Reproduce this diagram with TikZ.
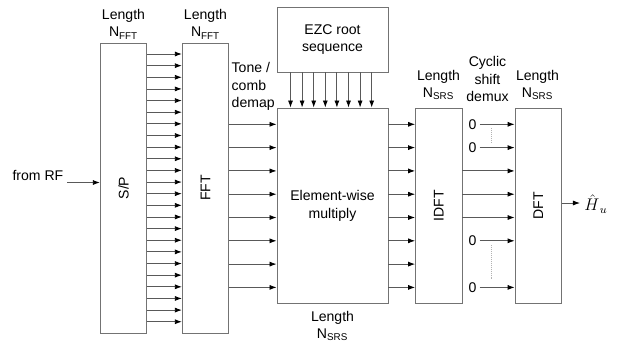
\documentclass[tikz,border=0pt]{standalone}
\usepackage{fontspec}
\setmainfont{Liberation Sans}
\usetikzlibrary{arrows.meta,positioning,calc}

\begin{document}
\begin{tikzpicture}[
    x=0.025cm, y=-0.025cm,
    font=\fontsize{10}{12.6}\selectfont,
    block/.style={rectangle, draw=black!55, semithick, minimum width=1.16cm, inner sep=0pt},
    arrow/.style={-{Latex[length=5pt,width=3.6pt,color=black]}, draw=black!65, semithick},
    lbl/.style={align=center, inner sep=1pt}
]
    \useasboundingbox (0,0) rectangle (629,343);

    % blocks
    \node[block, minimum height=7.25cm] (sp) at (123.5,188) {};
    \node[block, minimum height=7.25cm] (fft) at (205.5,188) {};
    \node[block, minimum width=2.775cm, minimum height=1.625cm, align=center] (ezc) at (332.5,39.5) {EZC root\\sequence};
    \node[block, minimum width=2.775cm, minimum height=4.875cm, align=center] (mult) at (332.5,205.5) {Element-wise\\multiply};
    \node[block, minimum height=4.875cm] (idft) at (438.75,205.5) {};
    \node[block, minimum height=4.875cm] (dft) at (538.25,205.5) {};

    \node[rotate=90] at (sp) {S/P};
    \node[rotate=90] at (fft) {FFT};
    \node[rotate=90] at (idft) {IDFT};
    \node[rotate=90] at (dft) {DFT};

    % labels
    \node[lbl] (lensp) at (123.5,24) {Length\\N\textsubscript{FFT}};
    \node[lbl] (lenfft) at (205.5,24) {Length\\N\textsubscript{FFT}};
    \node[lbl, align=left, anchor=west] (demap) at (230,86.5) {Tone /\\comb\\demap};
    \node[lbl] (lenmult) at (332.5,326) {Length\\N\textsubscript{SRS}};
    \node[lbl] (lenidft) at (438.5,85) {Length\\N\textsubscript{SRS}};
    \node[lbl] (demux) at (487.5,79) {Cyclic\\shift\\demux};
    \node[lbl] (lendft) at (537.5,85) {Length\\N\textsubscript{SRS}};

    % input
    \node[anchor=east, inner sep=1pt] (rf) at (65,175) {from RF};
    \coordinate (rfin) at (67,182.5);
    \draw[arrow] (rfin) -- (sp.west |- rfin);

    % S/P to FFT
    \foreach \i [evaluate=\i as \yy using 54+11.64*\i] in {0,...,23}
        \draw[arrow] (sp.east |- 0,\yy) -- (fft.west |- 0,\yy);

    % FFT to multiply to IDFT
    \foreach \i [evaluate=\i as \yy using 124.3+23.3*\i] in {0,...,7} {
        \draw[arrow] (fft.east |- 0,\yy) -- (mult.west |- 0,\yy);
        \draw[arrow] (mult.east |- 0,\yy) -- (idft.west |- 0,\yy);
    }

    % root sequence
    \foreach \i [evaluate=\i as \xx using 290.5+11.6*\i] in {0,...,7}
        \draw[arrow] (ezc.south -| \xx,0) -- (mult.north -| \xx,0);

    % IDFT to DFT
    \foreach \i [evaluate=\i as \yy using 124.3+23.3*\i] in {2,3,4}
        \draw[arrow] (idft.east |- 0,\yy) -- (dft.west |- 0,\yy);
    \foreach \i/\n [evaluate=\i as \yy using 124.3+23.3*\i] in {0/z1,1/z2,5/z3,7/z4} {
        \node[inner sep=2pt] (\n) at (472.5,\yy) {0};
        \draw[arrow] (\n.east) -- (dft.west |- \n.east);
    }
    \draw[black!30, densely dotted] (491.5,128) -- (491.5,142);
    \draw[black!30, densely dotted] (491.5,245) -- (491.5,280);

    % output
    \coordinate (hout) at (580,203);
    \draw[arrow] (dft.east |- hout) -- (hout);
    \node[anchor=west, inner sep=0pt, font=\large] (hu) at (584,204) {$\hat{H}_{\,u}$};
\end{tikzpicture}
\end{document}
